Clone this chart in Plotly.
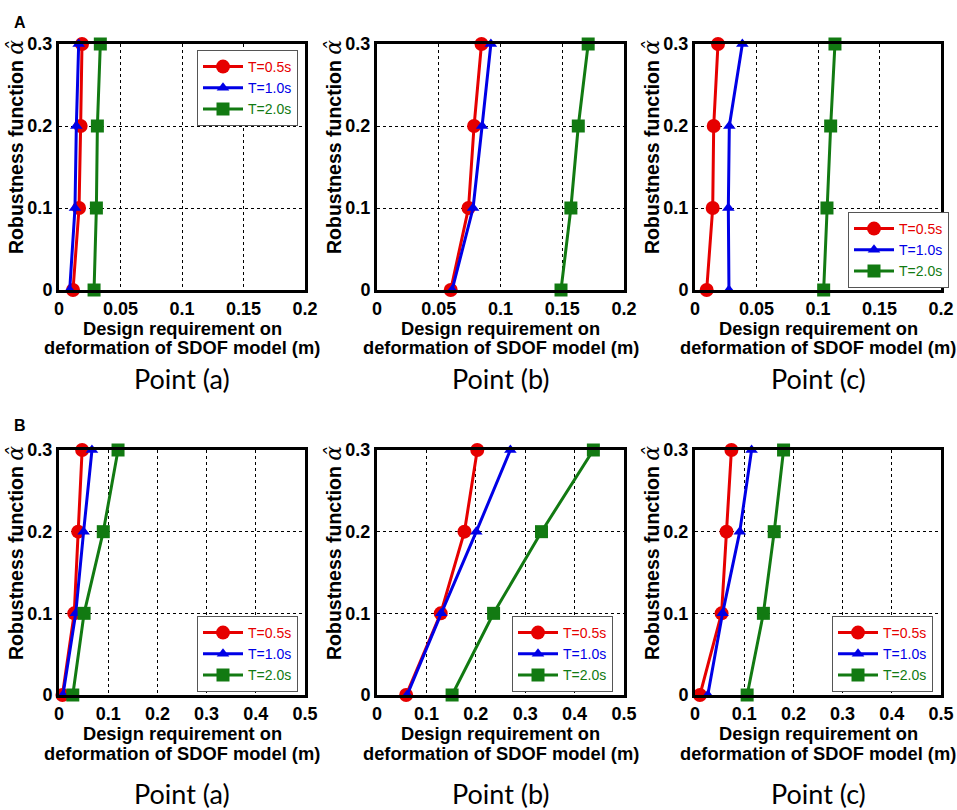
import plotly.graph_objects as go

W, H = 957, 810

alpha = [0, 0.1, 0.2, 0.3]
series_names = ["T=0.5s", "T=1.0s", "T=2.0s"]

# (A) design requirement, x range 0-0.2
a_pa_t05 = [0.0114, 0.0163, 0.0176, 0.0187]
a_pa_t10 = [0.0087, 0.0130, 0.0141, 0.0160]
a_pa_t20 = [0.0285, 0.0304, 0.0312, 0.0336]

a_pb_t05 = [0.0597, 0.0741, 0.0786, 0.0846]
a_pb_t10 = [0.0608, 0.0778, 0.0851, 0.0922]
a_pb_t20 = [0.1490, 0.1570, 0.1630, 0.1710]

a_pc_t05 = [0.0095, 0.0144, 0.0152, 0.0187]
a_pc_t10 = [0.0276, 0.0271, 0.0279, 0.0385]
a_pc_t20 = [0.1046, 0.1073, 0.1103, 0.1138]

# (B) design requirement, x range 0-0.5
b_pa_t05 = [0.007, 0.031, 0.039, 0.047]
b_pa_t10 = [0.008, 0.034, 0.050, 0.067]
b_pa_t20 = [0.028, 0.051, 0.090, 0.120]

b_pb_t05 = [0.059, 0.129, 0.177, 0.203]
b_pb_t10 = [0.061, 0.130, 0.201, 0.270]
b_pb_t20 = [0.152, 0.236, 0.333, 0.438]

b_pc_t05 = [0.010, 0.054, 0.064, 0.074]
b_pc_t10 = [0.026, 0.056, 0.091, 0.115]
b_pc_t20 = [0.106, 0.139, 0.161, 0.180]

point_labels = ["Point (a)", "Point (b)", "Point (c)"]
x_ticks_a = [0, 0.05, 0.1, 0.15, 0.2]
x_ticks_b = [0, 0.1, 0.2, 0.3, 0.4, 0.5]
y_ticks = [0, 0.1, 0.2, 0.3]

colors = ["#e60000", "#0000e6", "#127a12"]
symbols = ["circle", "triangle-up", "square"]
msizes = [14, 11, 13]

# plot boxes in pixels (left, right) and (top, bottom)
cols_px = [(59, 305), (377, 624), (695, 941)]
rows_px = [(44, 290), (450, 695)]

panels = [
    # row, col, data, xmax, ticks, legend (x px, y px) or None
    (0, 0, [a_pa_t05, a_pa_t10, a_pa_t20], 0.2, x_ticks_a, (197, 50)),
    (0, 1, [a_pb_t05, a_pb_t10, a_pb_t20], 0.2, x_ticks_a, None),
    (0, 2, [a_pc_t05, a_pc_t10, a_pc_t20], 0.2, x_ticks_a, (848, 212)),
    (1, 0, [b_pa_t05, b_pa_t10, b_pa_t20], 0.5, x_ticks_b, (197, 616)),
    (1, 1, [b_pb_t05, b_pb_t10, b_pb_t20], 0.5, x_ticks_b, (512, 616)),
    (1, 2, [b_pc_t05, b_pc_t10, b_pc_t20], 0.5, x_ticks_b, (832, 616)),
]


def px(x):
    return x / W


def py(y):
    return 1 - y / H


fig = go.Figure()
layout = {}
annotations = []
legend_n = 0
txt_font = "Arial, Liberation Sans"

for i, (r, c, data, xmax, xt, leg) in enumerate(panels):
    k = "" if i == 0 else str(i + 1)
    x0, x1 = cols_px[c]
    y0, y1 = rows_px[r]
    legname = None
    if leg is not None:
        legend_n += 1
        legname = "legend" if legend_n == 1 else f"legend{legend_n}"
        layout[legname] = dict(
            x=px(leg[0]), y=py(leg[1]), xanchor="left", yanchor="top",
            xref="paper", yref="paper",
            bgcolor="white", bordercolor="#555", borderwidth=1,
            font=dict(family=txt_font, size=14),
            itemwidth=40, tracegroupgap=0,
        )
    for s in range(3):
        fig.add_trace(go.Scatter(
            x=data[s], y=alpha, mode="lines+markers",
            name=f"<span style='color:{colors[s]}'>{series_names[s]}</span>",
            line=dict(color=colors[s], width=3),
            marker=dict(symbol=symbols[s], size=msizes[s], color=colors[s]),
            xaxis="x" + k, yaxis="y" + k,
            showlegend=legname is not None,
            legend=legname if legname else "legend",
            cliponaxis=False,
        ))
    axis_common = dict(
        showline=True, mirror=True, linecolor="black", linewidth=3,
        showgrid=True, gridcolor="black", griddash="dot", gridwidth=1,
        zeroline=False, ticks="", automargin=False, ticklabeloverflow="allow",
        tickfont=dict(family=txt_font, size=18, color="black", weight="bold"),
    )
    layout["xaxis" + k] = dict(
        axis_common, domain=[px(x0), px(x1)], range=[0, xmax],
        tickvals=xt, anchor="y" + k,
    )
    layout["yaxis" + k] = dict(
        axis_common, domain=[py(y1), py(y0)], range=[0, 0.3],
        tickvals=y_ticks, anchor="x" + k,
    )
    cx = px((x0 + x1) / 2)
    base = 290 if r == 0 else 695
    annotations.append(dict(
        x=cx, y=py(base + 38), xref="paper", yref="paper",
        text="<b>Design requirement on</b>", showarrow=False,
        font=dict(family=txt_font, size=18.3, color="black"),
        xanchor="center", yanchor="middle"))
    annotations.append(dict(
        x=cx, y=py(base + 58), xref="paper", yref="paper",
        text="<b>deformation of SDOF model (m)</b>", showarrow=False,
        font=dict(family=txt_font, size=18.3, color="black"),
        xanchor="center", yanchor="middle"))
    annotations.append(dict(
        x=cx, y=py(base + 88 + (10 if r == 1 else 0)), xref="paper", yref="paper",
        text=point_labels[c], showarrow=False,
        font=dict(family="Lato, Open Sans", size=27, color="black"),
        xanchor="center", yanchor="middle"))
    annotations.append(dict(
        x=px(x0 - 44), y=py(y0 + 103), xref="paper", yref="paper",
        text="<b>Robustness function </b>"
             "<span style='font-family:DejaVu Serif;font-size:22px'><i>α̂</i></span>",
        showarrow=False, textangle=-90,
        font=dict(family=txt_font, size=19.5, color="black"),
        xanchor="center", yanchor="middle"))

annotations.append(dict(x=px(12), y=py(12), xref="paper", yref="paper",
                        text="<b>A</b>", showarrow=False,
                        font=dict(family=txt_font, size=16, color="black")))
annotations.append(dict(x=px(12), y=py(425), xref="paper", yref="paper",
                        text="<b>B</b>", showarrow=False,
                        font=dict(family=txt_font, size=16, color="black")))

fig.update_layout(
    width=W, height=H,
    margin=dict(l=0, r=0, t=0, b=0),
    plot_bgcolor="white", paper_bgcolor="white",
    annotations=annotations,
    **layout,
)

# drop the page's default body margin so the figure sits at the window corner
fig.write_html("out.html", config={"displayModeBar": False},
               post_script="document.body.style.margin='0';")
